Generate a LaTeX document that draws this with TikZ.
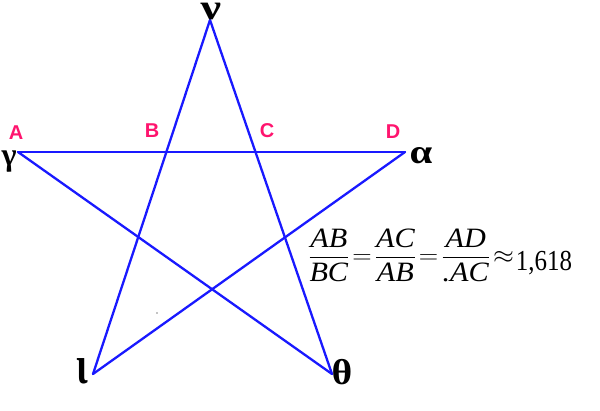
\documentclass[tikz,border=0pt]{standalone}
\usepackage{amsmath}
\usepackage{fontspec}
\setmainfont{Liberation Serif}
\newfontfamily\labfont{Liberation Sans}
\newfontfamily\grk{Liberation Serif}
\definecolor{pinkred}{RGB}{255,20,110}
\definecolor{lineblue}{RGB}{25,25,255}
\newcommand{\gsz}[2]{{\grk\fontsize{#1}{#1}\selectfont\bfseries #2}}
\begin{document}
\begin{tikzpicture}[x=1pt,y=-1pt,
  edge/.style={draw=lineblue, line width=2.3pt, line cap=round, line join=round},
  greek/.style={inner sep=0pt, text=black},
  ptlab/.style={text=pinkred, font=\labfont\bfseries\fontsize{20}{22}\selectfont, inner sep=0pt}]
\useasboundingbox (0,0) rectangle (600,411);
% vertices
\coordinate (nu) at (210,20);
\coordinate (ga) at (18,152);
\coordinate (al) at (405,152);
\coordinate (io) at (93,374);
\coordinate (th) at (332,374);
% star
\draw[edge] (ga) -- (al);
\draw[edge] (nu) -- (io);
\draw[edge] (nu) -- (th);
\draw[edge] (ga) -- (th);
\draw[edge] (al) -- (io);
% vertex labels
\node[greek] (lnu) at (211,11.5) {\scalebox{1.35}[1.05]{\gsz{34}{ν}}};
\node[greek] (lga) at (9,162) {\gsz{32}{γ}};
\node[greek] (lal) at (421,156) {\scalebox{1.2}[1]{\gsz{34}{α}}};
\node[greek] (lio) at (82,371) {\scalebox{1.1}[1.6]{\gsz{34}{ι}}};
\node[greek] (lth) at (342,372) {\scalebox{1.1}[1]{\gsz{36}{θ}}};
% point labels
\node[ptlab] (A) at (16,133) {A};
\node[ptlab] (B) at (152,131) {B};
\node[ptlab] (C) at (267,131) {C};
\node[ptlab] (D) at (393,132) {D};
% stray dot
\fill (157,313) circle (0.7);
% formula
\node[inner sep=0pt, anchor=west, font=\fontsize{28}{30}\selectfont] (f) at (308,255)
 {\scalebox{1.08}[1]{$\displaystyle\frac{\textit{AB}}{\textit{BC}}\!=\!\frac{\textit{AC}}{\textit{AB}}\!=\!\frac{\textit{AD}}{\textit{.AC}}\!\approx$}\hspace{2pt}\fontsize{29}{31}\selectfont\raisebox{-7pt}{\scalebox{0.86}[1]{1,618}}};
\end{tikzpicture}
\end{document}
